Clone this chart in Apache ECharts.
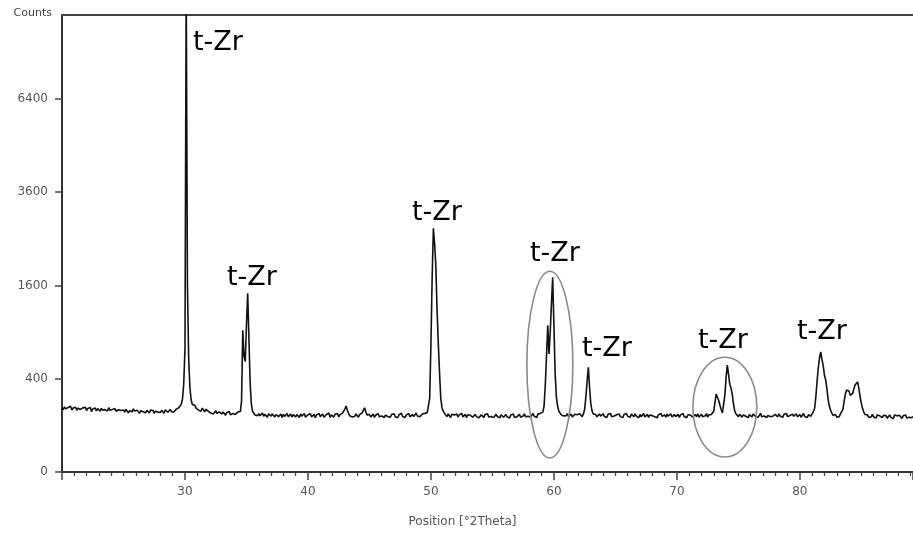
<!DOCTYPE html>
<html>
<head>
<meta charset="utf-8">
<style>
    html, body { margin: 0; padding: 0; background: #fff; }
    #chart { width: 913px; height: 535px; }
</style>
<script src="https://cdn.jsdelivr.net/npm/echarts@6.0.0/dist/echarts.min.js"></script>
</head>
<body>
<div id="chart"></div>
<script>
    // XRD scan, 20.0 .. 89.2 °2Theta, one value every 0.1°
    const thetaStart = 20.0;
    const thetaStep = 0.1;

    const counts20to40 = [
        190, 178, 195, 183, 172, 191, 186, 199, 176, 188,
        181, 193, 175, 187, 196, 180, 171, 189, 184, 192,
        174, 186, 179, 191, 168, 183, 177, 188, 172, 185,
        181, 170, 187, 175, 165, 179, 184, 171, 190, 176,
        168, 180, 173, 185, 170, 162, 178, 183, 174, 167,
        177, 165, 181, 170, 160, 174, 179, 166, 183, 171,
        164, 176, 169, 158, 173, 180, 167, 174, 161, 175,
        172, 160, 177, 166, 174, 158, 170, 181, 165, 171,
        163, 175, 168, 159, 178, 170, 164, 173, 180, 167,
        172, 165, 176, 182, 178, 190, 198, 212, 245, 360,
        700, 11000, 1600, 600, 330, 240, 210, 198, 205, 188,
        192, 176, 185, 170, 188, 179, 166, 182, 174, 169,
        171, 160, 168, 155, 164, 172, 158, 150, 166, 161,
        154, 166, 158, 148, 162, 155, 168, 151, 160, 157,
        163, 152, 159, 166, 158, 168, 230, 924, 620, 560,
        1000, 1470, 820, 360, 210, 168, 158, 149, 155, 146,
        157, 145, 151, 160, 143, 154, 148, 138, 156, 150,
        144, 155, 147, 139, 152, 158, 141, 149, 154, 137,
        153, 142, 150, 157, 140, 146, 155, 139, 151, 145,
        140, 152, 146, 136, 155, 143, 149, 157, 138, 147
    ];
    const counts40to60 = [
        151, 142, 156, 139, 147, 153, 136, 150, 144, 158,
        141, 149, 155, 138, 146, 152, 143, 160, 137, 150,
        146, 139, 153, 144, 157, 140, 151, 147, 158, 165,
        182, 200, 175, 158, 145, 152, 139, 148, 142, 155,
        147, 138, 151, 144, 160, 175, 190, 168, 150, 141,
        152, 139, 146, 155, 137, 148, 143, 157, 140, 150,
        144, 153, 136, 149, 158, 141, 147, 138, 152, 145,
        156, 140, 148, 135, 151, 146, 159, 142, 149, 137,
        150, 143, 157, 139, 148, 153, 141, 146, 160, 144,
        152, 140, 148, 155, 145, 158, 150, 162, 170, 250,
        750, 1750, 2730, 2400, 1950, 1200, 760, 450, 250, 190,
        170, 158, 152, 141, 155, 148, 137, 153, 145, 150,
        143, 155, 139, 150, 146, 158, 140, 149, 153, 136,
        151, 142, 148, 157, 138, 145, 153, 141, 149, 135,
        140, 150, 145, 137, 152, 143, 156, 139, 147, 142,
        149, 136, 144, 153, 141, 147, 135, 151, 143, 138,
        145, 152, 139, 148, 134, 150, 142, 155, 137, 146,
        141, 149, 153, 138, 147, 144, 156, 140, 150, 143,
        152, 139, 146, 157, 143, 149, 137, 154, 145, 158,
        150, 165, 200, 350, 620, 990, 640, 900, 1300, 1745
    ];
    const counts60to89 = [
        1000, 450, 260, 200, 170, 160, 150, 158, 144, 153,
        146, 157, 141, 150, 155, 139, 148, 153, 143, 151,
        145, 156, 148, 141, 155, 180, 260, 380, 505, 330,
        215, 172, 155, 146, 152, 140, 149, 155, 143, 150,
        156, 142, 147, 137, 153, 145, 158, 140, 149, 144,
        139, 151, 146, 155, 141, 148, 136, 152, 145, 157,
        143, 149, 138, 154, 147, 140, 156, 144, 150, 135,
        152, 141, 148, 157, 139, 146, 153, 137, 149, 144,
        146, 155, 140, 149, 136, 151, 145, 158, 142, 148,
        150, 138, 154, 143, 147, 156, 139, 145, 152, 141,
        147, 153, 137, 150, 144, 157, 140, 148, 136, 151,
        143, 149, 156, 139, 146, 152, 141, 155, 138, 147,
        154, 140, 148, 145, 157, 139, 150, 143, 152, 155,
        170, 225, 280, 293, 235, 205, 180, 160, 170, 270,
        410, 525, 440, 355, 325, 280, 215, 172, 156, 148,
        141, 153, 146, 138, 150, 157, 143, 149, 136, 152,
        145, 139, 155, 148, 142, 151, 137, 146, 158, 140,
        149, 144, 152, 136, 147, 155, 141, 150, 143, 138,
        153, 146, 140, 156, 144, 149, 137, 152, 145, 158,
        141, 150, 147, 139, 154, 143, 148, 156, 140, 146,
        152, 138, 145, 157, 142, 149, 136, 151, 147, 143,
        155, 168, 185, 260, 380, 500, 600, 663, 580, 520,
        430, 390, 320, 240, 200, 175, 160, 148, 140, 152,
        138, 147, 141, 155, 165, 180, 230, 280, 310, 324,
        300, 270, 260, 285, 320, 350, 365, 373, 320, 260,
        218, 185, 165, 152, 144, 150, 137, 146, 140, 153,
        139, 147, 134, 150, 141, 145, 152, 136, 148, 140,
        146, 133, 143, 150, 137, 144, 131, 149, 140, 145,
        136, 148, 139, 132, 145, 141, 150, 134, 143, 138,
        146, 135, 142
    ];

    const yTickCounts = [0, 400, 1600, 3600, 6400];
    const xTickLabels = [30, 40, 50, 60, 70, 80];

    // "t-Zr" labels: left edge [°2Theta], vertical middle [counts]
    const peakLabelSpots = [
        [30.65, 8459], [33.41, 1735], [48.46, 3076], [58.05, 2189],
        [62.28, 694], [71.71, 787], [79.76, 905]
    ];
    // hand drawn ellipses: [thetaMin, thetaMax, countsMin, countsMax]
    const circledRegions = [
        [57.8, 61.54, 9, 1852],
        [71.3, 76.5, 10.3, 606]
    ];

    // axis is square-root scaled, so plot sqrt(counts)
    const allCounts = counts20to40.concat(counts40to60, counts60to89);
    const seriesData = allCounts.map((c, i) => [
        Math.round((thetaStart + i * thetaStep) * 10) / 10,
        Math.sqrt(c)
    ]);

    const axisFont = {fontFamily: 'DejaVu Sans', fontSize: 12, color: '#555'};

    const chart = echarts.init(document.getElementById('chart'));
    chart.setOption({
        animation: false,
        backgroundColor: '#fff',
        grid: {left: 62, right: 0, top: 15, bottom: 63},
        xAxis: [{
            type: 'value',
            min: 20,
            max: 89.2,
            interval: 10,
            name: 'Position [°2Theta]',
            nameLocation: 'middle',
            nameGap: 44,
            nameTextStyle: {fontFamily: 'DejaVu Sans', fontSize: 12, color: '#555', padding: [0, 50, 0, 0]},
            axisLine: {lineStyle: {color: '#333', width: 2}},
            axisTick: {length: 8, lineStyle: {color: '#444', width: 1.5}},
            minorTick: {show: true, splitNumber: 10, length: 4, lineStyle: {color: '#444', width: 1.2}},
            axisLabel: Object.assign({margin: 14, customValues: xTickLabels}, axisFont),
            splitLine: {show: false}
        }, {
            type: 'value',
            position: 'top',
            min: 20,
            max: 89.2,
            axisLine: {show: true, lineStyle: {color: '#444', width: 2}},
            axisTick: {show: false},
            axisLabel: {show: false},
            splitLine: {show: false}
        }],
        yAxis: {
            type: 'value',
            min: 0,
            max: 98,
            interval: 20,
            name: 'Counts',
            nameLocation: 'end',
            nameGap: 2,
            nameTextStyle: {fontFamily: 'DejaVu Sans', fontSize: 11, color: '#444', align: 'right', verticalAlign: 'middle', padding: [0, 10, 0, 0]},
            axisLine: {show: true, lineStyle: {color: '#333', width: 2}},
            axisTick: {show: true, length: 7, customValues: yTickCounts.map(Math.sqrt), lineStyle: {color: '#444', width: 1.5}},
            axisLabel: Object.assign({
                margin: 14,
                customValues: yTickCounts.map(Math.sqrt),
                formatter: v => String(Math.round(v * v))
            }, axisFont),
            splitLine: {show: false}
        },
        series: [{
            type: 'line',
            data: seriesData,
            symbol: 'none',
            sampling: null,
            clip: true,
            lineStyle: {color: '#111', width: 1.6}
        }]
    });

    // annotations placed through the chart's own scales
    const toPx = (theta, c) => chart.convertToPixel({gridIndex: 0}, [theta, Math.sqrt(c)]);
    const graphics = [];
    peakLabelSpots.forEach(s => {
        const p = toPx(s[0], s[1]);
        graphics.push({
            type: 'text',
            x: p[0],
            y: p[1],
            style: {
                text: 't-Zr',
                fontFamily: 'DejaVu Sans',
                fontSize: 27,
                fill: '#000',
                align: 'left',
                verticalAlign: 'middle'
            },
            z: 10
        });
    });
    circledRegions.forEach(r => {
        const a = toPx(r[0], r[3]);
        const b = toPx(r[1], r[2]);
        graphics.push({
            type: 'ellipse',
            shape: {
                cx: (a[0] + b[0]) / 2,
                cy: (a[1] + b[1]) / 2,
                rx: Math.abs(b[0] - a[0]) / 2,
                ry: Math.abs(b[1] - a[1]) / 2
            },
            style: {fill: 'none', stroke: '#8a8a8a', lineWidth: 1.6},
            z: 9
        });
    });
    chart.setOption({graphic: graphics});
</script>
</body>
</html>
